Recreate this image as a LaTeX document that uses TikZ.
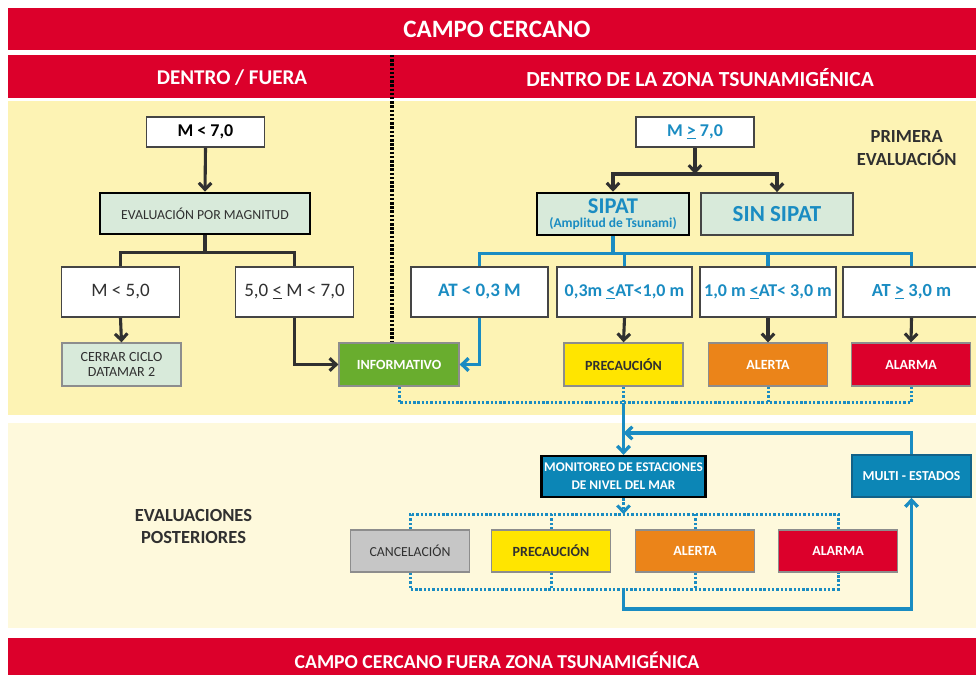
\documentclass[tikz,border=0pt]{standalone}
\usepackage{fontspec}
\setmainfont{Carlito}
\usetikzlibrary{arrows.meta}

\definecolor{rojo}{HTML}{DC002B}
\definecolor{crema}{HTML}{FDF3B4}
\definecolor{cremaclara}{HTML}{FEF9DC}
\definecolor{verdeclaro}{HTML}{D8EADA}
\definecolor{azul}{HTML}{1A8CC2}
\definecolor{azulcaja}{HTML}{0C86B6}
\definecolor{verde}{HTML}{69AD2E}
\definecolor{amarillo}{HTML}{FFE500}
\definecolor{naranja}{HTML}{EB8419}
\definecolor{gris}{HTML}{C6C6C6}
\definecolor{texto}{HTML}{303030}

\newcommand{\tam}[1]{\fontsize{#1}{#1}\selectfont}

\begin{document}
\begin{tikzpicture}[
                x=1pt, y=-1pt,
                barra/.style = {
                    fill=rojo,
                    text=white,
                    inner sep=0pt,
                    font=\tam{25}\bfseries
                },
                caja/.style = {
                    draw=#1,
                    line width=1.9pt,
                    inner sep=0pt,
                    align=center
                },
                caja/.default = texto!90,
                blanca/.style = {caja, fill=white, minimum width=118, minimum height=50},
                estado/.style = {caja=texto!55, line width=1.3pt, minimum width=119, minimum height=43, font=\tam{14}\bfseries},
                negra/.style = {line width=3.1pt, texto},
                azulado/.style = {line width=3.3pt, azul},
                punteada/.style = {line width=3pt, azul, dash pattern=on 2.4pt off 1.9pt},
                flecha/.style = {-{Straight Barb[length=6.5pt, width=12.5pt]}},
                rotulo/.style = {align=center, text=texto, font=\tam{18.5}\bfseries}
            ]
            \useasboundingbox (0,0) rectangle (976,674);
            \clip (0,0) rectangle (976,674);
            %
            % fondos
            \fill[crema] (8,101) rectangle (986,415);
            \fill[cremaclara] (8,423) rectangle (986,628);
            \node[barra, minimum width=978, minimum height=42] (campo) at (497,29) {CAMPO CERCANO};
            \node[barra, minimum width=978, minimum height=43] (zonas) at (497,76.5) {};
            \node[text=white, font=\tam{21}\bfseries] (dentrofuera) at (232,78) {DENTRO / FUERA};
            \node[text=white, font=\tam{21.5}\bfseries] (dentrozona) at (700,78) {DENTRO DE LA ZONA TSUNAMIGÉNICA};
            \node[barra, minimum width=978, minimum height=44, font=\tam{19.7}\bfseries] (fuera) at (497,660) {CAMPO CERCANO FUERA ZONA TSUNAMIGÉNICA};
            %
            % lado izquierdo
            \node[blanca, minimum height=30, font=\tam{18}\bfseries] (m7) at (205.5,132) {M < 7,0};
            \node[caja=black, line width=2.7pt, fill=verdeclaro, minimum width=210, minimum height=41, font=\tam{13.8}, text=texto] (evalmag) at (205,213.5) {EVALUACIÓN POR MAGNITUD};
            \node[blanca, font=\tam{19}, text=texto] (m5) at (120.5,292) {M < 5,0};
            \node[blanca, font=\tam{19}, text=texto] (m57) at (294.5,292) {5,0 \underline{<} M < 7,0};
            \node[estado, fill=verdeclaro, font=\tam{14}, text=texto] (cerrar) at (121.5,364.5) {CERRAR CICLO\\[1pt]DATAMAR 2};
            \node[estado, fill=verde, text=white, minimum width=120] (info) at (399,364.5) {INFORMATIVO};
            %
            % lado derecho
            \node[blanca, minimum height=30, font=\tam{18}\bfseries, text=azul] (mge7) at (695,132) {M \underline{>} 7,0};
            \node[rotulo, anchor=east] (primera) at (960,148.5) {PRIMERA\\[4.5pt]EVALUACIÓN};
            \node[caja=black, line width=2.7pt, fill=verdeclaro, minimum width=152, minimum height=42, text=azul, font=\tam{22.5}\bfseries] (sipat) at (613,214) {SIPAT\\[-8pt]{\tam{13.5}(Amplitud de Tsunami)}};
            \node[caja, line width=1.9pt, fill=verdeclaro, minimum width=152, minimum height=42, text=azul, font=\tam{23}\bfseries] (sinsipat) at (777,214) {SIN SIPAT};
            \node[blanca, minimum width=137, font=\tam{19}\bfseries, text=azul] (at03) at (479.5,292) {AT < 0,3 M};
            \node[blanca, minimum width=135, font=\tam{18}\bfseries, text=azul] (at1) at (624.5,292) {0,3m \underline{<}AT<1,0 m};
            \node[blanca, minimum width=136, font=\tam{18}\bfseries, text=azul] (at3) at (768,292) {1,0 m \underline{<}AT< 3,0 m};
            \node[blanca, minimum width=137, font=\tam{18.5}\bfseries, text=azul] (at3m) at (911.5,292) {AT \underline{>} 3,0 m};
            \node[estado, fill=amarillo, text=texto] (prec1) at (623.5,364.5) {PRECAUCIÓN};
            \node[estado, fill=naranja, text=white] (alerta1) at (768,364.5) {ALERTA};
            \node[estado, fill=rojo, text=white] (alarma1) at (911,364.5) {ALARMA};
            %
            % evaluaciones posteriores
            \node[caja=black, line width=2.3pt, fill=azulcaja, text=white, minimum width=164, minimum height=41, font=\tam{13.3}\bfseries] (monitoreo) at (623.5,476.5) {MONITOREO DE ESTACIONES\\[4.7pt]DE NIVEL DEL MAR};
            \node[caja=azul!70!black, line width=1.7pt, fill=azulcaja, text=white, minimum width=119, minimum height=42, font=\tam{13.7}\bfseries] (multi) at (911.5,476) {MULTI - ESTADOS};
            \node[rotulo] (posteriores) at (193.5,526) {EVALUACIONES\\[3.5pt]POSTERIORES};
            \node[estado, fill=gris, minimum height=42, font=\tam{13.8}, text=texto] (cancela) at (410,551) {CANCELACIÓN};
            \node[estado, fill=amarillo, minimum height=42, text=texto] (prec2) at (551,551) {PRECAUCIÓN};
            \node[estado, fill=naranja, minimum height=42, text=white] (alerta2) at (695,551) {ALERTA};
            \node[estado, fill=rojo, minimum height=42, text=white] (alarma2) at (838,551) {ALARMA};
            %
            % separador
            \coordinate (sep) at (392,55);
            \draw[line width=3.3pt, black, dash pattern=on 2.5pt off 1.7pt] (sep) -- (sep |- info.north);
            %
            % conectores izquierda
            \draw[negra, flecha] (m7.south) -- (evalmag.north);
            \draw[negra] (evalmag.south) -- ++(0,17) coordinate (ramaL);
            \draw[negra] (m5.north) |- (ramaL) -| (m57.north);
            \draw[negra, flecha] (m5.south) -- (cerrar.north);
            \draw[negra, flecha] (m57.south) |- (info.west);
            %
            % conectores derecha
            \draw[negra, flecha] (mge7.south) -- ++(0,26) coordinate (ramaR);
            \draw[negra, flecha] (ramaR) -| (sipat.north);
            \draw[negra, flecha] (ramaR) -| (sinsipat.north);
            \draw[azulado] (sipat.south) -- ++(0,17) coordinate (ramaA);
            \draw[azulado] (at03.north) |- (ramaA) -| (at3m.north);
            \draw[azulado] (at1.north) -- (at1.north |- ramaA);
            \draw[azulado] (at3.north) -- (at3.north |- ramaA);
            \draw[azulado, flecha] (at03.south) |- (info.east);
            \draw[negra, flecha] (at1.south) -- (prec1.north);
            \draw[negra, flecha] (at3.south) -- (alerta1.north);
            \draw[negra, flecha] (at3m.south) -- (alarma1.north);
            %
            \draw[punteada] (info.south) -- ++(0,16) coordinate (colA) -| (alarma1.south);
            \draw[punteada] (prec1.south) -- (prec1.south |- colA);
            \draw[punteada] (alerta1.south) -- (alerta1.south |- colA);
            \coordinate (bajada) at (prec1.south |- colA);
            \draw[azulado, flecha] (bajada) -- (monitoreo.north);
            \coordinate (retorno) at (623.5,433);
            \draw[azulado, flecha] (multi.north) |- (retorno);
            %
            \draw[punteada, flecha] (monitoreo.south) -- ++(0,16) coordinate (colB);
            \draw[punteada] (cancela.north) |- (colB) -| (alarma2.north);
            \draw[punteada] (prec2.north) -- (prec2.north |- colB);
            \draw[punteada] (alerta2.north) -- (alerta2.north |- colB);
            \coordinate (colC) at (623.5,589);
            \draw[punteada] (cancela.south) |- (colC) -| (alarma2.south);
            \draw[punteada] (prec2.south) -- (prec2.south |- colC);
            \draw[punteada] (alerta2.south) -- (alerta2.south |- colC);
            \draw[azulado, flecha] (colC) -- ++(0,20) -| (multi.south);
            %
        \end{tikzpicture}
\end{document}
